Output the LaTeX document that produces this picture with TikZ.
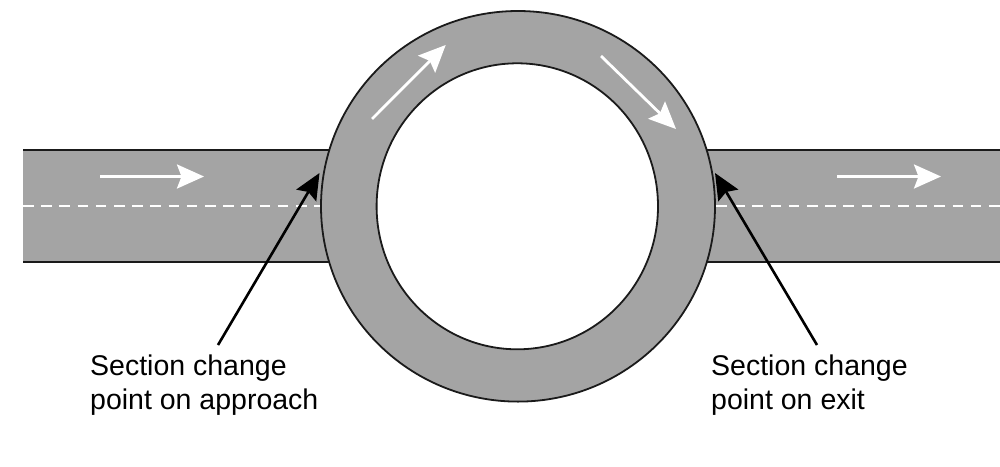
\documentclass[tikz,border=0pt]{standalone}
\usepackage{fontspec}
\setmainfont{Liberation Sans}
\usetikzlibrary{arrows.meta,shapes.geometric}
\definecolor{roadgrey}{HTML}{A4A4A4}
\definecolor{inkline}{HTML}{1A1A1A}
\tikzset{
  road/.style={fill=roadgrey,draw=none},
  kerb/.style={draw=inkline,line width=2pt},
  centreline/.style={draw=white,line width=1.8pt,dash pattern=on 10.5pt off 7.7pt},
  flow/.style={draw=white,line width=2.8pt,-{Stealth[length=27pt,width=24pt,inset=4.5pt,fill=white]}},
  pointer/.style={draw=black,line width=2.6pt,-{Stealth[length=26pt,width=23pt,inset=4pt,fill=black]}},
  caption/.style={align=left,anchor=north west,inner sep=0pt,font=\fontsize{28.5pt}{34pt}\selectfont,text=black},
  disc/.style={ellipse,inner sep=0pt,outer sep=0pt,draw=inkline,line width=1.8pt},
}
\begin{document}
\begin{tikzpicture}[x=1pt,y=-1pt]
\useasboundingbox (0,0) rectangle (1000,466);
\fill[white] (0,0) rectangle (1000,466);
% roads
\path[road] (23,150) rectangle (345,262);
\path[road] (690,150) rectangle (1000,262);
\draw[kerb] (23,150) -- (345,150);
\draw[kerb] (23,262) -- (345,262);
\draw[kerb] (690,150) -- (1000,150);
\draw[kerb] (690,262) -- (1000,262);
\draw[centreline] (23,206) -- (322,206);
\draw[centreline] (716,206) -- (1000,206);
% roundabout
\node[disc,fill=roadgrey,minimum width=394pt,minimum height=390.6pt] (ring) at (518,206.3) {};
\node[disc,fill=white,minimum width=281.4pt,minimum height=286pt] (island) at (517.3,206.3) {};
% flow arrows
\coordinate (a1) at (100,176.5); \coordinate (a2) at (204,176.5);
\coordinate (b1) at (372,119); \coordinate (b2) at (445.7,45);
\coordinate (c1) at (601,56); \coordinate (c2) at (676,129);
\coordinate (d1) at (837,176.5); \coordinate (d2) at (941,176.5);
\draw[flow] (a1) -- (a2);
\draw[flow] (b1) -- (b2);
\draw[flow] (c1) -- (c2);
\draw[flow] (d1) -- (d2);
% captions
\node[caption] (approach) at (90,354.5) {Section change\\point on approach};
\node[caption] (exit) at (711,354.5) {Section change\\point on exit};
\coordinate (p1) at (319.5,173);
\coordinate (p2) at (715,173);
\coordinate (q1) at (218,345);
\coordinate (q2) at (817,345);
\draw[pointer] (q1) -- (p1);
\draw[pointer] (q2) -- (p2);
\end{tikzpicture}
\end{document}
